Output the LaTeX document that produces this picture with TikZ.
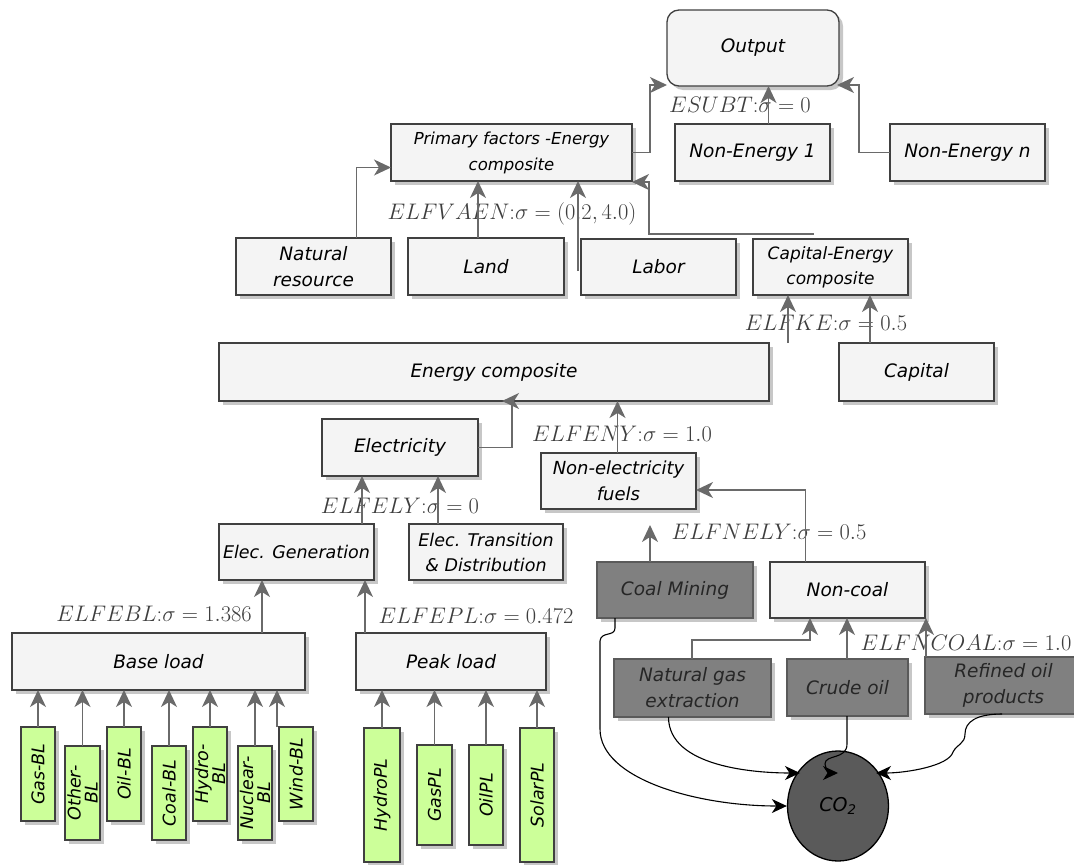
\documentclass[tikz,border=0pt]{standalone}
\usepackage{fix-cm}
\usepackage{fontspec}
\setmainfont{DejaVu Sans}
\usetikzlibrary{arrows.meta,shadows,shapes.geometric}

\definecolor{boxfill}{HTML}{F4F4F4}
\definecolor{boxline}{HTML}{404040}
\definecolor{darkfill}{HTML}{808080}
\definecolor{darkline}{HTML}{5A5A5A}
\definecolor{greenfill}{HTML}{CCFF99}
\definecolor{wire}{HTML}{6A6A6A}
\definecolor{eqgray}{HTML}{3E3E3E}
\definecolor{cofill}{HTML}{5A5A5A}

\begin{document}
\begin{tikzpicture}[x=1pt,y=-1pt,
  % place a box by its left/top/right/bottom edges
  corners/.style args={#1/#2/#3/#4}{at={({(#1+#3)/2},{(#2+#4)/2})},
    minimum width={(#3-#1)*1pt}, minimum height={(#4-#2)*1pt}},
  shade/.style={drop shadow={shadow xshift=4pt, shadow yshift=-4pt, fill=black, opacity=0.22}},
  bx/.style={draw=boxline, fill=boxfill, line width=1.3pt, inner sep=1pt, outer sep=0pt,
    align=center, shade, font=\fontsize{18.5}{26}\selectfont\itshape},
  dbx/.style={bx, draw=darkline, fill=darkfill, text=black!85},
  gbx/.style={draw=boxline, fill=greenfill, line width=1.1pt, inner sep=0pt, outer sep=0pt, shade},
  gtxt/.style={rotate=90, align=center, inner sep=0pt, font=\fontsize{17.5}{17}\selectfont\itshape},
  eq/.style={inner sep=0pt, text=eqgray, font=\fontsize{22.5}{24}\selectfont},
  arr/.style={draw=wire, line width=1.4pt, -{Stealth[length=17pt,width=16pt,inset=5pt]}},
  co/.style={draw=black, line width=1.1pt, -{Stealth[length=15pt,width=14pt,inset=4.5pt]}}
]
\useasboundingbox (0,0) rectangle (1074,865);

% ---------- top level ----------
\node[bx, rounded corners=12pt, corners=667/10/839/86] (out) {Output};
\node[bx, corners=391/124/632/181, font=\fontsize{16.5}{26}\selectfont\itshape] (prim) {Primary factors -Energy\\composite};
\node[bx, corners=675/124/830/181] (ne1) {Non-Energy 1};
\node[bx, corners=890/124/1045/181] (nen) {Non-Energy n};
\node[eq] (eSUBT) at (740,105) {$ESUBT{:}\sigma=0$};

\draw[arr] (prim.east) -- ++(18,0) |- ([yshift=1pt]out.south west);
\draw[arr] ([xshift=16pt]ne1.north) -- ([xshift=16pt]ne1.north |- out.south);
\draw[arr] (nen.west) -- ++(-31,0) |- ([xshift=-2pt,yshift=1pt]out.south east);

% ---------- primary factors ----------
\node[bx, corners=236/238/391/295] (natres) {Natural\\resource};
\node[bx, corners=408/238/564/295] (land) {Land};
\node[bx, corners=581/239/736/295] (labor) {Labor};
\node[bx, corners=753/239/908/295, font=\fontsize{17}{25}\selectfont\itshape] (capE) {Capital-Energy\\composite};
\node[eq] (eVAEN) at (512,214) {$ELFVAEN{:}\sigma=(0.2,4.0)$};

\draw[arr] ([xshift=43pt]natres.north) |- ([yshift=-15pt]prim.west);
\draw[arr] ([xshift=-8pt]land.north) -- ([xshift=-8pt]land.north |- prim.south);
\draw[arr] ([xshift=-3pt,yshift=-4pt]labor.west) -- ([xshift=-3pt]labor.west |- prim.south);
\draw[arr] ([xshift=-17pt,yshift=5pt]capE.north) -| ([xshift=17pt,yshift=-1pt]prim.south east) -- ([yshift=-1pt]prim.south east);

% ---------- energy / capital ----------
\node[bx, corners=219/343/769/401] (energy) {Energy composite};
\node[bx, corners=839/343/994/401] (capital) {Capital};
\node[eq] (eKE) at (826,323) {$ELFKE{:}\sigma=0.5$};

\draw[arr] ([xshift=19pt]energy.north east) -- ([xshift=19pt]energy.north east |- capE.south);
\draw[arr] ([xshift=31pt]capital.north west) -- ([xshift=31pt]capital.north west |- capE.south);

% ---------- electricity branch ----------
\node[bx, corners=322/419/478/476] (elec) {Electricity};
\node[bx, corners=541/453/696/509, font=\fontsize{18}{26}\selectfont\itshape] (nonel) {Non-electricity\\fuels};
\node[eq] (eENY) at (622,434) {$ELFENY{:}\sigma=1.0$};
\node[eq] (eELY) at (400,506) {$ELFELY{:}\sigma=0$};

\draw[arr, shorten >=8pt] (elec.east) -- ++(34,0) |- (energy.south) ;
\draw[arr] ([xshift=-1pt]nonel.north) -- ([xshift=-1pt]nonel.north |- energy.south);

\node[bx, corners=219/524/374/580, font=\fontsize{17.5}{26}\selectfont\itshape] (egen) {Elec. Generation};
\node[bx, corners=409/524/563/580, font=\fontsize{17.5}{25}\selectfont\itshape] (etd) {Elec. Transition\\\& Distribution};

\draw[arr] ([xshift=-12pt]egen.north east) -- ([xshift=-12pt]egen.north east |- elec.south);
\draw[arr] ([xshift=29pt]etd.north west) -- ([xshift=29pt]etd.north west |- elec.south);

% ---------- load blocks ----------
\node[bx, corners=12/633/305/690] (base) {Base load};
\node[bx, corners=356/633/546/690] (peak) {Peak load};
\node[eq] (eEBL) at (154,614) {$ELFEBL{:}\sigma=1.386$};
\node[eq] (eEPL) at (476,616) {$ELFEPL{:}\sigma=0.472$};

\draw[arr] ([xshift=-43pt]base.north east) -- ([xshift=-43pt]base.north east |- egen.south);
\draw[arr] ([xshift=9pt]peak.north west) -- ([xshift=9pt]peak.north west |- egen.south);

% base load technologies
\node[gbx, corners=21/727/55/821] (gasbl) {};
\node[gtxt] (gasblT) at (gasbl) {Gas-BL};
\node[gbx, corners=65/746/100/840] (othbl) {};
\node[gtxt] (othblT) at (othbl) {Other-\\BL};
\node[gbx, corners=107/727/141/821] (oilbl) {};
\node[gtxt] (oilblT) at (oilbl) {Oil-BL};
\node[gbx, corners=152/746/186/840] (coalbl) {};
\node[gtxt] (coalblT) at (coalbl) {Coal-BL};
\node[gbx, corners=193/727/227/821] (hydbl) {};
\node[gtxt] (hydblT) at (hydbl) {Hydro-\\BL};
\node[gbx, corners=238/746/272/840] (nucbl) {};
\node[gtxt] (nucblT) at (nucbl) {Nuclear-\\BL};
\node[gbx, corners=279/727/313/821] (wndbl) {};
\node[gtxt] (wndblT) at (wndbl) {Wind-BL};

\foreach \n in {gasbl,othbl,oilbl,coalbl,hydbl,nucbl}
  \draw[arr] (\n.north) -- (\n.north |- base.south);
\draw[arr] ([xshift=-2pt]wndbl.north west) -- ([xshift=-2pt]wndbl.north west |- base.south);

% peak load technologies
\node[gbx, corners=364/728/400/862] (hydpl) {};
\node[gtxt] (hydplT) at (hydpl) {HydroPL};
\node[gbx, corners=417/745/452/845] (gaspl) {};
\node[gtxt] (gasplT) at (gaspl) {GasPL};
\node[gbx, corners=469/745/503/845] (oilpl) {};
\node[gtxt] (oilplT) at (oilpl) {OilPL};
\node[gbx, corners=520/728/554/862] (solpl) {};
\node[gtxt] (solplT) at (solpl) {SolarPL};

\foreach \n in {hydpl,gaspl,oilpl,solpl}
  \draw[arr] (\n.north) -- (\n.north |- peak.south);

% ---------- fossil fuels ----------
\node[dbx, corners=597/562/753/618] (coal) {Coal Mining};
\node[bx, corners=770/562/925/618] (noncoal) {Non-coal};
\node[eq] (eNELY) at (769,532) {$ELFNELY{:}\sigma=0.5$};

\draw[arr, shorten >=16pt] ([xshift=-25pt]coal.north) -- ([xshift=-25pt]coal.north |- nonel.south);
\draw[arr] ([xshift=-42pt]noncoal.north) |- ([yshift=-9pt]nonel.east);

\node[dbx, corners=614/659/771/717] (ngas) {Natural gas\\extraction};
\node[dbx, corners=787/659/908/716] (crude) {Crude oil};
\node[dbx, corners=925/657/1082/714] (refin) {Refined oil\\products};
\node[eq] (eNCOAL) at (966,643) {$ELFNCOAL{:}\sigma=1.0$};

\draw[arr] ([xshift=-0.5pt]ngas.north) |- ([xshift=-37.5pt,yshift=-22pt]noncoal.south) -- ([xshift=-37.5pt]noncoal.south);
\draw[arr] ([xshift=-0.5pt]crude.north) -- ([xshift=-0.5pt]crude.north |- noncoal.south);
\draw[arr] ([xshift=1pt]refin.north west) -- ([xshift=1pt]refin.north west |- noncoal.south);

% ---------- emissions ----------
\node[ellipse, draw=black, line width=1.3pt, fill=cofill, minimum width=101pt, minimum height=110pt,
      inner sep=0pt, font=\fontsize{19}{20}\selectfont\itshape] (co2) at (838,806) {CO\textsubscript{2}};

\draw[co] ([xshift=-60pt]coal.south) -- ++(0,10)
  .. controls ++(0,9) and ++(1,-10) .. ++(-15,13)
  -- ++(0,88)
  .. controls ++(0,50) and ++(-90,0) .. (co2.west);
\draw[co] ([xshift=-24pt]ngas.south)
  .. controls ++(0,50) and ++(-45,0) .. ([xshift=-38pt,yshift=33pt]co2.center);
\draw[co] ([xshift=-0.5pt]crude.south) -- ++(0,28)
  .. controls ++(0,16) and ++(0,-10) .. ++(-22,20)
  .. controls ++(0,6) and ++(-6,0) .. ([yshift=33pt]co2.center);
\draw[co] ([xshift=77pt]refin.south west)
  .. controls ++(-26,0) and ++(0,-12) .. ++(-37,20)
  .. controls ++(0,10) and ++(4,-8) .. ++(-12,18)
  .. controls ++(-4,14) and ++(30,0) .. ([xshift=38pt,yshift=33pt]co2.center);
\end{tikzpicture}
\end{document}
